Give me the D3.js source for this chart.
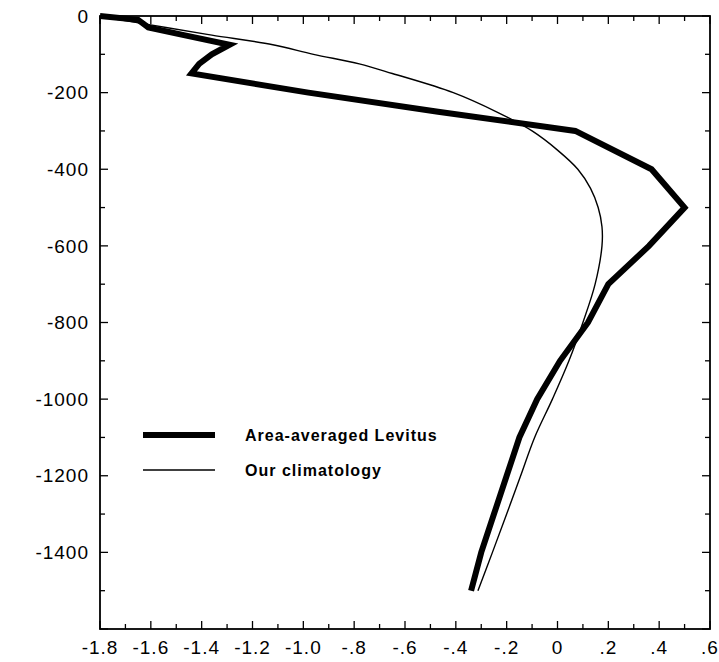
<!DOCTYPE html>
<html>
<head>
<meta charset="utf-8">
<script src="https://cdn.jsdelivr.net/npm/d3@7"></script>
<style>
  body { margin: 0; background: #fff; }
  text { font-family: "Liberation Sans", Arial, sans-serif; fill: #000; }
</style>
</head>
<body>
<div id="chart"></div>
<script>
/**
 * Temperature profile : area-averaged Levitus vs. our climatology
 */

// Data (depth in m, temperature in deg C)
var levDepths = [0, 10, 20, 30, 50, 75, 100, 125, 150, 200, 250, 300, 400, 500, 600, 700, 800, 900, 1000, 1100, 1200, 1300, 1400, 1500];
var levitus = [-1.80, -1.65, -1.63, -1.61, -1.47, -1.29, -1.36, -1.41, -1.44, -0.98, -0.47, 0.07, 0.37, 0.50, 0.36, 0.20, 0.12, 0.01, -0.08, -0.15, -0.20, -0.25, -0.30, -0.34];

var climDepths = [0, 10, 20, 30, 50, 75, 100, 125, 150, 200, 250, 300, 350, 400, 450, 500, 550, 600, 700, 800, 900, 1000, 1100, 1200, 1300, 1400, 1500];
var climatology = [-1.80, -1.72, -1.63, -1.54, -1.36, -1.12, -0.96, -0.78, -0.65, -0.41, -0.24, -0.10, 0.00, 0.08, 0.13, 0.16, 0.175, 0.175, 0.148, 0.10, 0.045, -0.02, -0.09, -0.145, -0.20, -0.256, -0.313];

var xTicks = [-1.8, -1.6, -1.4, -1.2, -1.0, -0.8, -0.6, -0.4, -0.2, 0, 0.2, 0.4, 0.6];
var xTickLabels = ['-1.8', '-1.6', '-1.4', '-1.2', '-1.0', '-.8', '-.6', '-.4', '-.2', '0', '.2', '.4', '.6'];
var yTicks = [0, -200, -400, -600, -800, -1000, -1200, -1400];

var seriesNames = ['Area-averaged Levitus', 'Our climatology'];

/**
 * Vars
 */
var W = 719, H = 662,
    margin = { top: 16, right: 9, bottom: 33, left: 100 },
    width = W - margin.left - margin.right,
    height = H - margin.top - margin.bottom;

var x = d3.scaleLinear().domain([-1.8, 0.6]).range([0, width]);
var y = d3.scaleLinear().domain([0, -1600]).range([0, height]);

var svg = d3.select('#chart').append('svg')
  .attr('width', W)
  .attr('height', H);

var g = svg.append('g')
  .attr('transform', 'translate(' + margin.left + ',' + margin.top + ')');

/**
 * Frame + ticks (all pointing inward)
 */
var minorX = d3.range(-18, 7).map(function(d) { return d / 10; });
var minorY = d3.range(0, 17).map(function(d) { return -d * 100; });

function isMajorX(v) { return Math.abs(Math.round(v * 10)) % 2 === 0; }
function isMajorY(v) { return Math.abs(v) % 200 === 0; }

var ticks = g.append('g').attr('class', 'ticks')
  .style('stroke', '#000').style('stroke-width', 1.3);

minorX.forEach(function(v) {
  var len = isMajorX(v) ? 8 : 5;
  ticks.append('line').attr('x1', x(v)).attr('x2', x(v)).attr('y1', height).attr('y2', height - len);
  ticks.append('line').attr('x1', x(v)).attr('x2', x(v)).attr('y1', 0).attr('y2', len);
});
minorY.forEach(function(v) {
  var len = isMajorY(v) ? 8 : 5;
  ticks.append('line').attr('y1', y(v)).attr('y2', y(v)).attr('x1', 0).attr('x2', len);
  ticks.append('line').attr('y1', y(v)).attr('y2', y(v)).attr('x1', width).attr('x2', width - len);
});

g.append('rect')
  .attr('width', width)
  .attr('height', height)
  .style('fill', 'none')
  .style('stroke', '#000')
  .style('stroke-width', 1.8);

// Tick labels
g.selectAll('.xlab').data(xTicks)
  .enter().append('text')
    .attr('class', 'xlab')
    .attr('x', function(d) { return x(d); })
    .attr('y', height + 25)
    .attr('text-anchor', 'middle')
    .style('font-size', '19px')
    .style('letter-spacing', '1px')
    .text(function(d, i) { return xTickLabels[i]; });

g.selectAll('.ylab').data(yTicks)
  .enter().append('text')
    .attr('class', 'ylab')
    .attr('x', -11)
    .attr('y', function(d) { return y(d); })
    .attr('dy', '0.35em')
    .attr('text-anchor', 'end')
    .style('font-size', '19px')
    .style('letter-spacing', '1px')
    .text(String);

/**
 * Lines
 */
var levLine = d3.line()
  .x(function(d, i) { return x(levitus[i]); })
  .y(function(d) { return y(-d); });

var climLine = d3.line()
  .curve(d3.curveCatmullRom)
  .x(function(d, i) { return x(climatology[i]); })
  .y(function(d) { return y(-d); });

g.append('path')
  .datum(climDepths)
  .attr('d', climLine)
  .style('fill', 'none')
  .style('stroke', '#000')
  .style('stroke-width', 1.4);

g.append('path')
  .datum(levDepths)
  .attr('d', levLine)
  .style('fill', 'none')
  .style('stroke', '#000')
  .style('stroke-width', 6)
  .style('stroke-linejoin', 'miter');

/**
 * Legend
 */
var legend = g.selectAll('.legend').data(seriesNames)
  .enter().append('g')
    .attr('class', 'legend')
    .attr('transform', function(d, i) { return 'translate(43,' + (419 + i * 35) + ')'; });

legend.append('line')
  .attr('x1', 0).attr('x2', 72)
  .style('stroke', '#000')
  .style('stroke-width', function(d, i) { return i === 0 ? 6 : 1.4; });

legend.append('text')
  .attr('x', 102)
  .attr('dy', '0.35em')
  .style('font-size', '16px')
  .style('font-weight', 'bold')
  .style('letter-spacing', '1px')
  .text(String);
</script>
</body>
</html>
